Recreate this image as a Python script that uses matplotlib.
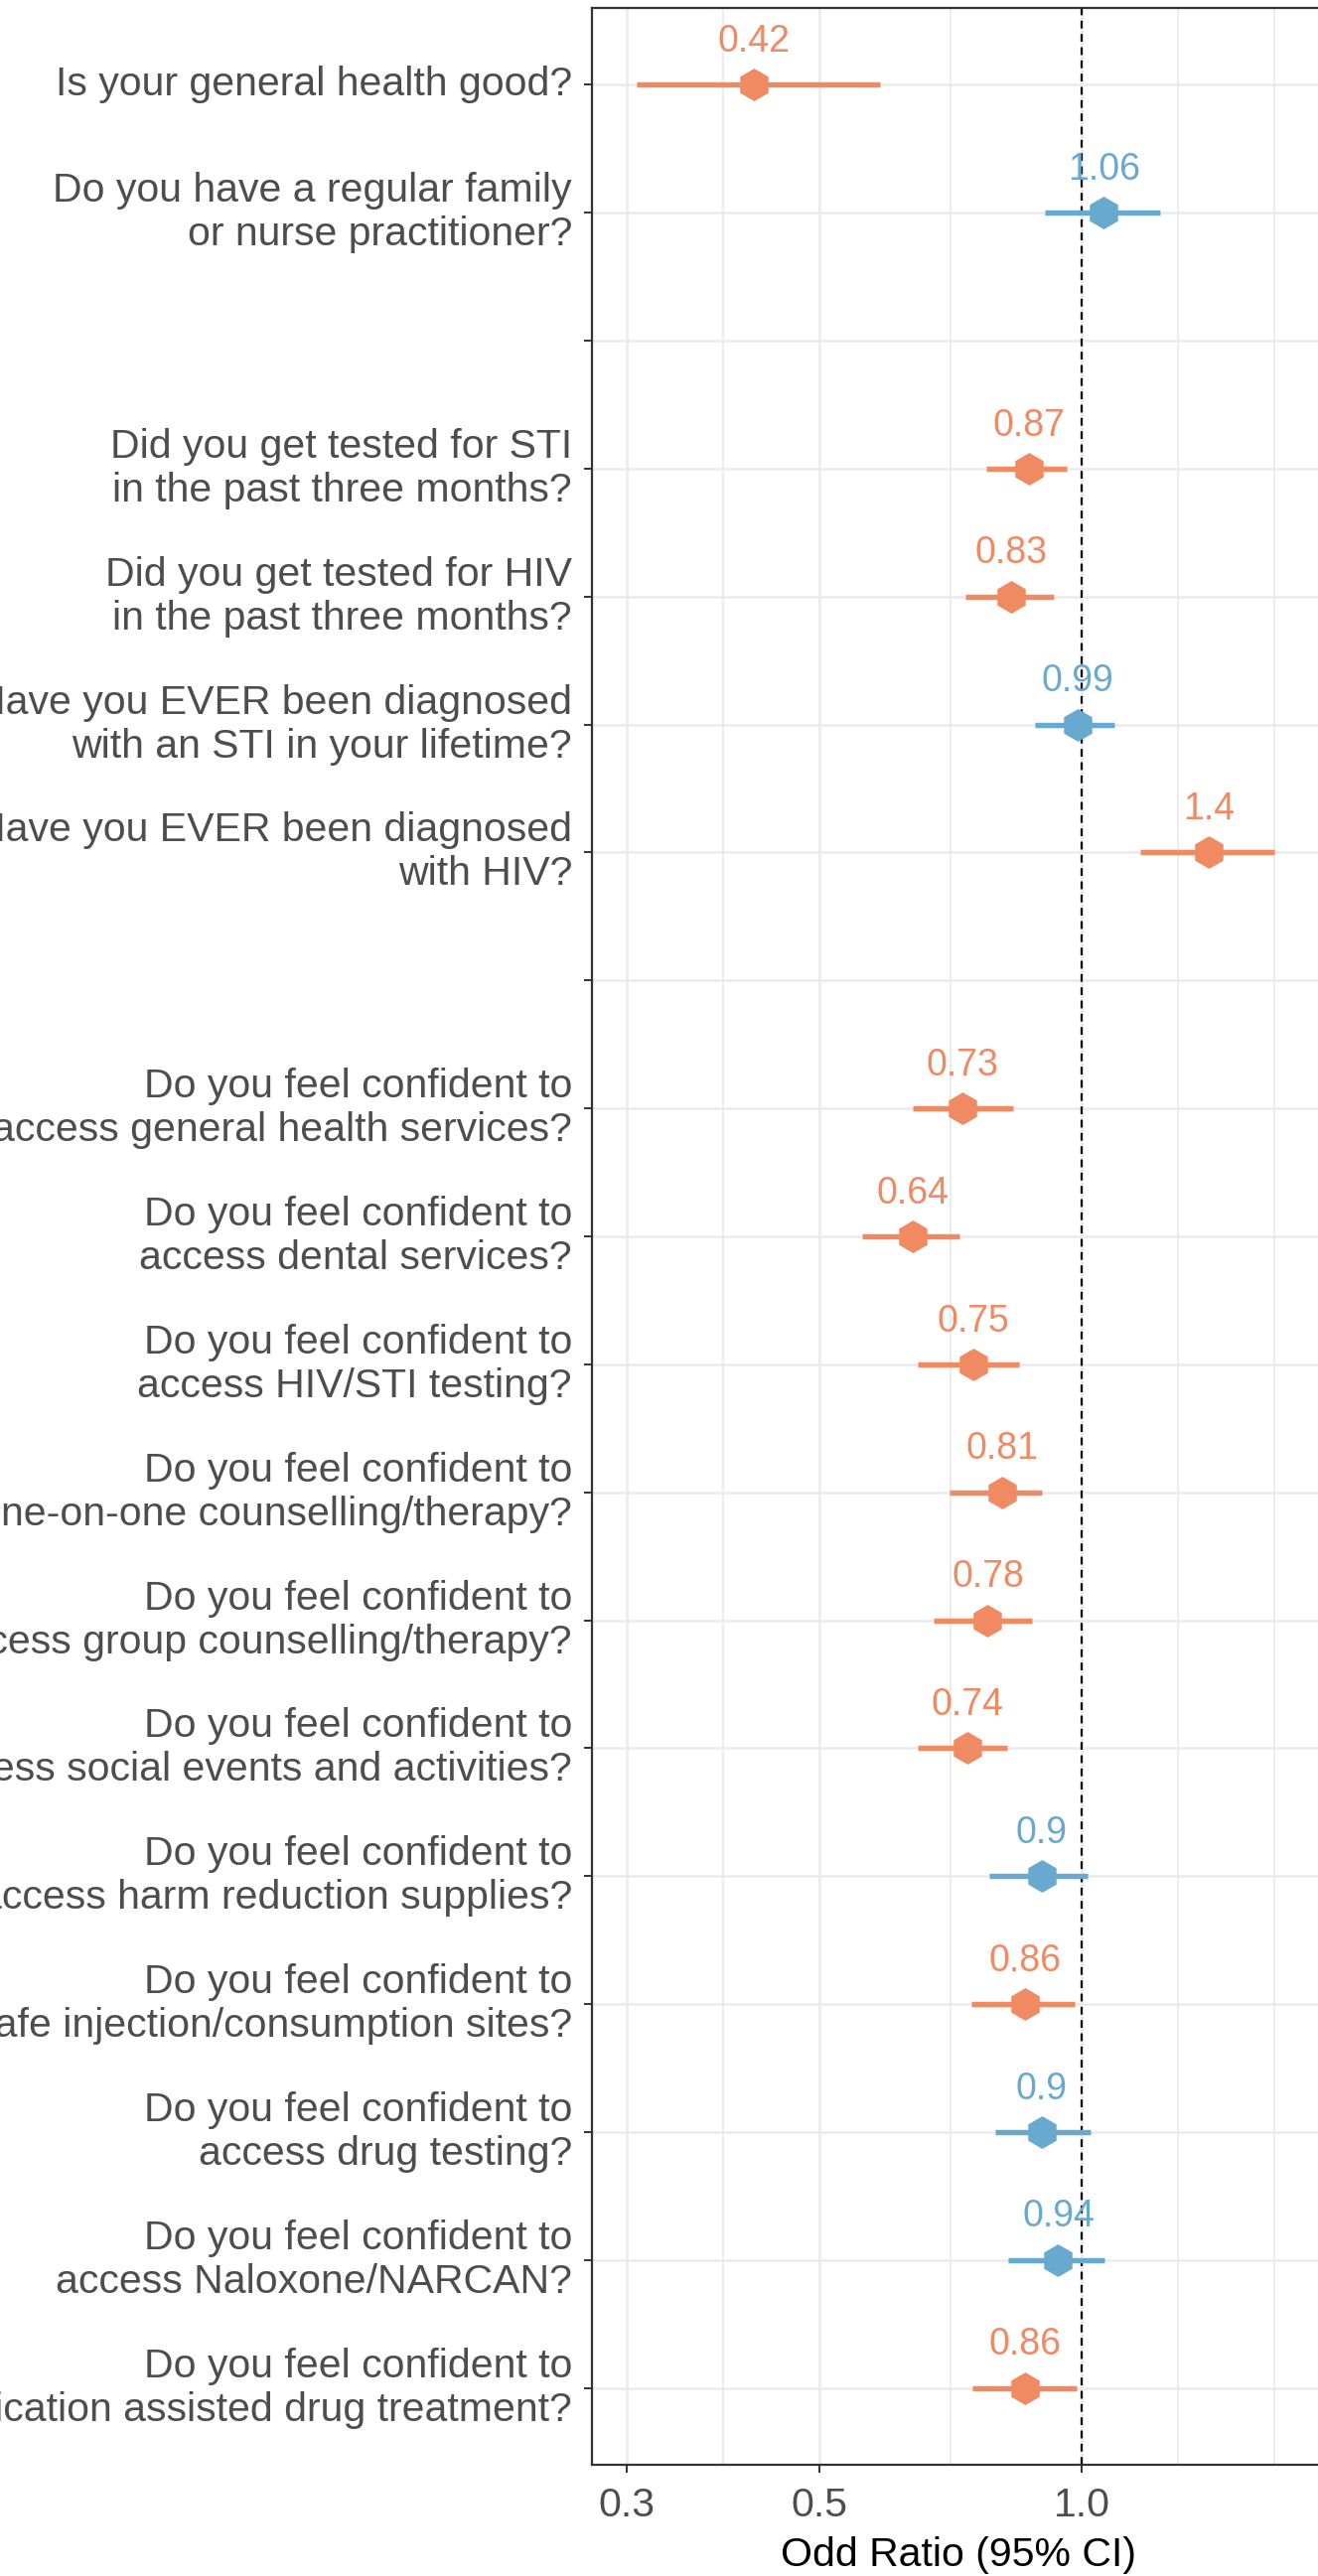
"""Forest plot des rapports de cotes (OR, IC 95 %) par question.

Échelle log en abscisse, une ligne par question (lignes vides = séparateurs),
couleur selon que l'IC contient 1 ou non.
"""

import numpy as np
import matplotlib

matplotlib.use("Agg")  # rendu headless
import matplotlib.pyplot as plt  # noqa: E402
from matplotlib.ticker import FixedLocator, NullFormatter  # noqa: E402

plt.rcParams["font.family"] = ["Liberation Sans", "DejaVu Sans"]

# --------------------------------------------------------------------------- #
# Données (de haut en bas ; "" = ligne vide de séparation)
# --------------------------------------------------------------------------- #
questions = [
    "Is your general health good?",
    "Do you have a regular family\nor nurse practitioner?",
    "",
    "Did you get tested for STI\nin the past three months?",
    "Did you get tested for HIV\nin the past three months?",
    "Have you EVER been diagnosed\nwith an STI in your lifetime?",
    "Have you EVER been diagnosed\nwith HIV?",
    "",
    "Do you feel confident to\naccess general health services?",
    "Do you feel confident to\naccess dental services?",
    "Do you feel confident to\naccess HIV/STI testing?",
    "Do you feel confident to\naccess one-on-one counselling/therapy?",
    "Do you feel confident to\naccess group counselling/therapy?",
    "Do you feel confident to\naccess social events and activities?",
    "Do you feel confident to\naccess harm reduction supplies?",
    "Do you feel confident to\naccess safe injection/consumption sites?",
    "Do you feel confident to\naccess drug testing?",
    "Do you feel confident to\naccess Naloxone/NARCAN?",
    "Do you feel confident to\naccess medication assisted drug treatment?",
]
odds_ratio = [0.42, 1.06, np.nan, 0.87, 0.83, 0.99, 1.4, np.nan, 0.73, 0.64,
              0.75, 0.81, 0.78, 0.74, 0.9, 0.86, 0.9, 0.94, 0.86]
ci_low = [0.308, 0.907, np.nan, 0.778, 0.736, 0.884, 1.168, np.nan, 0.639, 0.559,
          0.648, 0.705, 0.676, 0.648, 0.784, 0.747, 0.796, 0.824, 0.748]
ci_high = [0.587, 1.231, np.nan, 0.961, 0.928, 1.092, 1.667, np.nan, 0.834, 0.724,
           0.847, 0.901, 0.877, 0.822, 1.017, 0.982, 1.024, 1.061, 0.987]

x_breaks = [0.3, 0.5, 1.0]
x_break_labels = ["0.3", "0.5", "1.0"]

COL_SIG = "#EF8A62"  # IC n'inclut pas 1
COL_NS = "#67A9CF"   # IC inclut 1
GRID = "#EBEBEB"
FRAME = "#333333"

# --------------------------------------------------------------------------- #
# Figure
# --------------------------------------------------------------------------- #
fig = plt.figure(figsize=(13.27, 25.94), dpi=100)
# le panneau déborde légèrement à droite (image recadrée)
ax = fig.add_axes([0.4491, 0.0432, 0.5562, 0.9537])

n = len(questions)
ypos = np.arange(n)[::-1]

for yi, o, lo, hi in zip(ypos, odds_ratio, ci_low, ci_high):
    if np.isnan(o):
        continue
    col = COL_SIG if (hi < 1 or lo > 1) else COL_NS
    ax.hlines(yi, lo, hi, color=col, lw=3.9, zorder=3)
    ax.plot(o, yi, marker="h", ms=22.5, color=col, mec=col, zorder=4)
    ax.annotate(f"{o:g}", (o, yi), xytext=(0, 24), textcoords="offset points",
                ha="center", va="baseline", color=col, fontsize=27, zorder=5)

ax.axvline(1.0, color="black", lw=1.6, ls=(0, (3.5, 2.5)), zorder=2)

ax.set_xscale("log")
ax.set_xlim(0.2737, 1.904)
ax.set_ylim(-0.6, n - 1 + 0.6)

# graduations majeures + mineures (milieux en log, pas du premier intervalle)
lb = np.log10(x_breaks)
step = lb[1] - lb[0]
ext = np.append(lb, lb[-1] + step)
minor = 10 ** np.concatenate([(ext[:-1] + ext[1:]) / 2, [ext[-1]]])
ax.set_xticks(x_breaks)
ax.set_xticklabels(x_break_labels)
ax.xaxis.set_minor_locator(FixedLocator(minor))
ax.xaxis.set_minor_formatter(NullFormatter())

ax.set_yticks(ypos)
ax.set_yticklabels(questions)
for lab in ax.get_yticklabels():
    lab.set_verticalalignment("center")
    lab.set_multialignment("right")
    lab.set_linespacing(1.2)

ax.set_axisbelow(True)
ax.grid(which="major", color=GRID, lw=1.8)
ax.grid(which="minor", axis="x", color=GRID, lw=1.3)

ax.tick_params(which="major", length=5.8, width=1.4, color=FRAME, pad=8.6,
               labelsize=29.5, labelcolor="#4D4D4D")
ax.tick_params(axis="x", which="major", pad=10)
ax.tick_params(which="minor", length=0)
for sp in ax.spines.values():
    sp.set_color(FRAME)
    sp.set_linewidth(1.6)

ax.set_xlabel("Odd Ratio (95% CI)", fontsize=29.5, color="black", labelpad=9)

fig.savefig("out.png", dpi=100)
plt.close(fig)
